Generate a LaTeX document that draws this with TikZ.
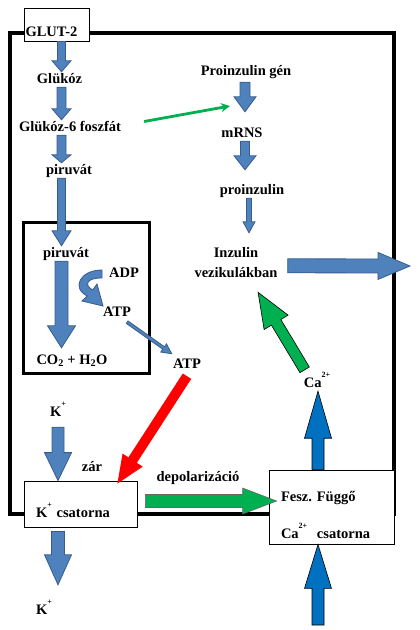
\documentclass[tikz,border=0pt]{standalone}
\usepackage{fontspec}
\setmainfont{Liberation Serif}
\usetikzlibrary{arrows.meta, calc}
\definecolor{cellblue}{RGB}{79,129,189}
\definecolor{cellblueline}{RGB}{56,93,138}
\definecolor{chanblue}{RGB}{0,112,192}
\definecolor{signalgreen}{RGB}{0,176,80}
\newcommand\supr[1]{\raisebox{10pt}{\fontsize{8}{8}\selectfont #1}}
% block arrow drawn between two points
\def\sw{4pt}\def\hw{9.5pt}\def\hl{11pt}
\tikzset{arr shaft/.store in=\sw, arr head/.store in=\hw, arr len/.store in=\hl}
\newcommand\blockarrow[3][]{%
  \path[fill=cellblue, draw=cellblueline, line width=0.8pt, #1]
    let \p1=(#2), \p2=(#3),
        \n1={veclen(\x2-\x1,\y2-\y1)}, \n2={atan2(\y2-\y1,\x2-\x1)} in
    {[shift={(\p1)}, rotate=\n2]
     (0pt,-\sw) -- (\n1-\hl,-\sw) -- (\n1-\hl,-\hw) -- (\n1,0pt)
     -- (\n1-\hl,\hw) -- (\n1-\hl,\sw) -- (0pt,\sw) -- cycle};}

\begin{document}
\begin{tikzpicture}[x=1pt, y=-1pt,
    txt/.style={font=\fontsize{14.5}{17}\selectfont\bfseries, inner sep=1pt,
                text height=10pt, text depth=3pt, anchor=base},
    box/.style={draw, fill=white, line width=0.8pt, align=left,
                font=\fontsize{14.5}{17}\selectfont\bfseries, inner ysep=2pt},
    membrane/.style={line width=4pt},
    chanarrow/.style={fill=chanblue, draw=black, line width=0.6pt},
    greenarrow/.style={fill=signalgreen, draw=black!60, line width=0.6pt},
    redarrow/.style={fill=red, draw=none},
  ]
  \useasboundingbox (0,0) rectangle (420,630);

  % cell and mitochondrion
  \draw[membrane] (10,32.5) rectangle (394,513.5);
  \draw[line width=3pt] (23,222) rectangle (149,373);

  % boxes on the membrane
  \node[box, minimum width=65pt, text width=62pt, inner xsep=1.5pt,
        text height=26pt, text depth=3pt] (glut) at (56.5,24.5) {GLUT-2};
  \node[box, minimum width=113pt, text width=89pt, inner xsep=12pt,
        text height=34pt, text depth=8pt] (kch) at (80.5,504) {K\supr{+} csatorna};
  \node[box, minimum width=125pt, text width=101pt, inner xsep=12pt,
        text height=29pt, text depth=41pt] (cach) at (331.5,507)
        {\begin{tabular}[t]{@{}l@{}}Fesz.\ Függő\\[17pt]Ca\supr{2+}\ \ csatorna\end{tabular}};

  % labels
  \node[txt] (glukoz) at (59.5,83) {Glükóz};
  \node[txt] (gfp) at (70,131) {Glükóz-6 foszfát};
  \node[txt] (pir) at (69,174) {piruvát};
  \node[txt] (pirm) at (66,257) {piruvát};
  \node[txt] (adp) at (124,277) {ADP};
  \node[txt] (atpm) at (117,316) {ATP};
  \node[txt] (co) at (72,364) {CO\textsubscript{2} + H\textsubscript{2}O};
  \node[txt] (atp) at (187,368) {ATP};
  \node[txt] (kin) at (58,416) {K\supr{+}};
  \node[txt] (zar) at (92,471) {zár};
  \node[txt] (kout) at (44,614) {K\supr{+}};
  \node[txt] (depol) at (198,481) {depolarizáció};
  \node[txt] (ca) at (317,387) {Ca\supr{2+}};
  \node[txt] (gen) at (246,75) {Proinzulin gén};
  \node[txt] (mrns) at (242,137) {mRNS};
  \node[txt] (proins) at (252,194) {proinzulin};
  \node[txt] (inz) at (236,257) {Inzulin};
  \node[txt] (vez) at (236,277) {vezikulákban};

  \coordinate (ax) at (61.5,0);
  \coordinate (rc) at (245,0);
  \coordinate (cabot) at (318,625);
  \coordinate (secr) at (410,266);
  \coordinate (genin) at (230,106);

  % glycolysis
  \blockarrow{glut.south -| ax}{glukoz.north -| ax}
  \blockarrow[arr shaft=4.5pt]{glukoz.south -| ax}{gfp.north -| ax}
  \blockarrow[arr shaft=4.5pt, arr len=8pt]{gfp.south -| ax}{pir.north -| ax}
  \blockarrow[arr len=15pt]{pir.south -| ax}{pirm.north -| ax}
  \blockarrow[arr shaft=6.5pt, arr head=14pt, arr len=22pt]{pirm.south -| ax}{$(co.north -| ax)+(0,-5)$}
  \filldraw[fill=cellblue, draw=cellblueline, line width=0.8pt]
    (102,270) .. controls (80,270) and (71,288) .. (87.3,296) -- (82,301)
    -- (103,306) -- (97,284) -- (92.7,290) .. controls (84,285) and (86,278) .. (102,278) -- cycle;
  \blockarrow[arr shaft=1.5pt, arr head=5pt, arr len=10pt]{$(atpm.south east)+(-5,2)$}{$(atp.north west)+(0,-3)$}

  % insulin synthesis
  \blockarrow[arr shaft=5pt, arr head=11pt, arr len=15pt]{$(gen.south -| rc)+(0,3)$}{$(mrns.north -| rc)+(0,-14)$}
  \blockarrow[arr shaft=4.5pt, arr head=11pt, arr len=14pt]{$(mrns.south -| rc)+(0,0)$}{$(proins.north -| rc)+(0,-13)$}
  \blockarrow[arr shaft=2.5pt, arr head=6pt, arr len=11pt]{$(proins.south -| rc)+(4,0)$}{$(inz.north -| rc)+(4,-13)$}
  \draw[signalgreen, line width=2.8pt, -{Stealth[length=9pt, width=9pt]}] ($(gfp.east)+(22,-6)$) -- (genin);
  \blockarrow[arr shaft=7pt, arr head=13.5pt, arr len=32pt]{$(vez.north east)+(9,0)$}{secr}

  % channels
  \blockarrow[arr shaft=6pt, arr head=13.5pt, arr len=28pt]{$(kin.south)+(0,7)$}{kin.south |- kch.north}
  \blockarrow[arr shaft=6.5pt, arr head=13.5pt, arr len=30pt]{$(kch.south -| kin)+(0,4)$}{$(kout.north -| kin)+(0,-18)$}
  \blockarrow[redarrow, arr shaft=5pt, arr head=12pt, arr len=28pt]{$(atp.south)+(0,4)$}{$(kch.north east)+(-20,3)$}
  \blockarrow[greenarrow, arr shaft=6.5pt, arr head=13pt, arr len=34pt]{$(kch.east)+(8,-3)$}{$(kch.east -| cach.west)+(8,-3)$}
  \blockarrow[chanarrow, arr shaft=6pt, arr head=13.5pt, arr len=44pt]{cabot}{cach.south -| cabot}
  \blockarrow[chanarrow, arr shaft=6pt, arr head=13.5pt, arr len=47pt]{cach.north -| cabot}{ca.south -| cabot}
  \blockarrow[greenarrow, draw=black, arr shaft=5.5pt, arr head=14pt, arr len=35pt]{$(ca.north west)+(2,-6)$}{$(vez.south)+(22,11)$}
\end{tikzpicture}
\end{document}
